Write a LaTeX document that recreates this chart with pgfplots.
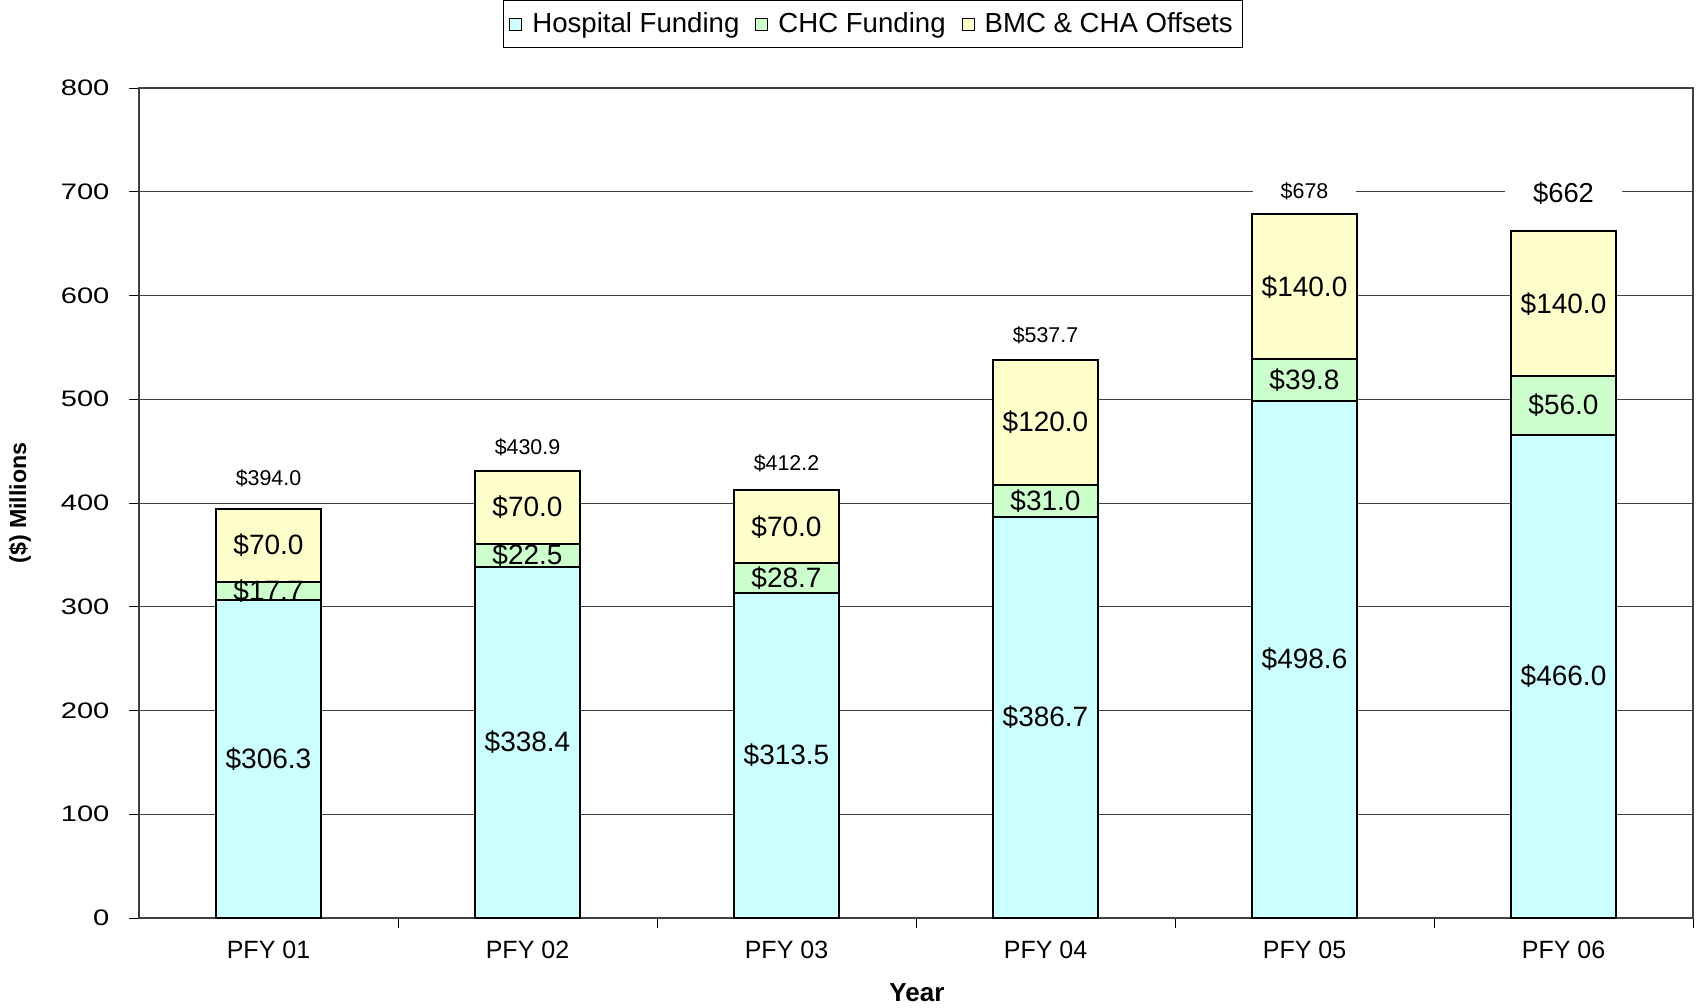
\documentclass[border=0pt]{standalone}
\usepackage{pgfplots}
\pgfplotsset{compat=1.18}
\usepackage{fontspec}
\setmainfont{Liberation Sans}
\definecolor{hosp}{HTML}{CCFFFF}
\definecolor{chc}{HTML}{CCFFCC}
\definecolor{bmc}{HTML}{FFFFCC}
\pgfplotsset{base/.style={scale only axis, width=777pt, height=415pt,
  xmin=-0.5, xmax=5.5, ymin=0, ymax=800, at={(0pt,0pt)}, anchor=south west}}
\begin{document}
\begin{tikzpicture}
\path[use as bounding box] (-69.5pt,-44.5pt) rectangle (780.5pt,459pt);
\begin{axis}[base, ybar stacked, bar width=52.5pt,
  ytick={0,100,...,800}, ymajorgrids,
  grid style={black!75, line width=0.5pt},
  xtick={0.5,1.5,...,5.5},
  xticklabels={PFY 01,PFY 02,PFY 03,PFY 04,PFY 05,PFY 06},
  x tick label style={xshift=-64.75pt, yshift=-3pt, font=\fontsize{12.5}{14}\selectfont},
  y tick label style={font=\fontsize{11.2}{13}\selectfont, xscale=1.3, xshift=-4pt},
  /pgf/number format/assume math mode=true,
  tick align=outside, tick pos=left,
  major tick length=5pt,
  xtick style={black, line width=0.5pt},
  ytick style={black, line width=0.5pt},
  axis line style={black!75, line width=0.6pt},
  xlabel={Year}, ylabel={(\$) Millions},
  every axis x label/.style={at={(axis description cs:0.5006,-0.0904)}, anchor=center,
    font=\bfseries\fontsize{13}{15}\selectfont},
  every axis y label/.style={at={(axis description cs:-0.0766,0.5)}, anchor=center, rotate=90,
    font=\bfseries\fontsize{11.6}{13}\selectfont},
  legend image code/.code={\draw[#1, line width=0.5pt] (2pt,-3pt) rectangle (8pt,3pt);},
  legend columns=3,
  legend style={at={(rel axis cs:0.4723,1)}, anchor=south, yshift=20pt,
    draw=black, fill=white, font=\fontsize{13.8}{15}\selectfont,
    /tikz/every odd column/.append style={column sep=3pt},
    /tikz/every even column/.append style={column sep=6pt},
    inner ysep=4pt},
]
\addplot[fill=hosp, draw=black, line width=1pt] coordinates {(0,306.3) (1,338.4) (2,313.5) (3,386.7) (4,498.6) (5,466.0)};
\addplot[fill=chc, draw=black, line width=1pt] coordinates {(0,17.7) (1,22.5) (2,28.7) (3,31.0) (4,39.8) (5,56.0)};
\addplot[fill=bmc, draw=black, line width=1pt] coordinates {(0,70.0) (1,70.0) (2,70.0) (3,120.0) (4,140.0) (5,140.0)};
\legend{Hospital Funding, CHC Funding, BMC \& CHA Offsets}
\end{axis}
\begin{axis}[base, hide axis, clip=false]
\addplot[draw=none, mark=none, nodes near coords, point meta=explicit symbolic,
  every node near coord/.append style={anchor=center, font=\fontsize{14}{16}\selectfont}]
  coordinates {(0,153.15)[\$306.3] (1,169.2)[\$338.4] (2,156.75)[\$313.5] (3,193.35)[\$386.7] (4,249.3)[\$498.6] (5,233.0)[\$466.0]
  (0,315.15)[\$17.7] (1,349.65)[\$22.5] (2,327.85)[\$28.7] (3,402.2)[\$31.0] (4,518.5)[\$39.8] (5,494.0)[\$56.0]
  (0,359.0)[\$70.0] (1,395.9)[\$70.0] (2,377.2)[\$70.0] (3,477.7)[\$120.0] (4,608.4)[\$140.0] (5,592.0)[\$140.0]};
\addplot[draw=none, mark=none, nodes near coords, point meta=explicit symbolic,
  every node near coord/.append style={anchor=center, fill=white, inner xsep=14pt, inner ysep=1pt, font=\fontsize{10.7}{12}\selectfont}]
  coordinates {(0,424)[\$394.0] (1,454)[\$430.9] (2,438.6)[\$412.2] (3,562)[\$537.7] (4,700.8)[\$678]};
\addplot[draw=none, mark=none, nodes near coords, point meta=explicit symbolic,
  every node near coord/.append style={anchor=center, fill=white, inner xsep=14pt, inner ysep=1pt, font=\fontsize{13.7}{15}\selectfont}]
  coordinates {(5,698.7)[\$662]};
\end{axis}
\end{tikzpicture}
\end{document}
